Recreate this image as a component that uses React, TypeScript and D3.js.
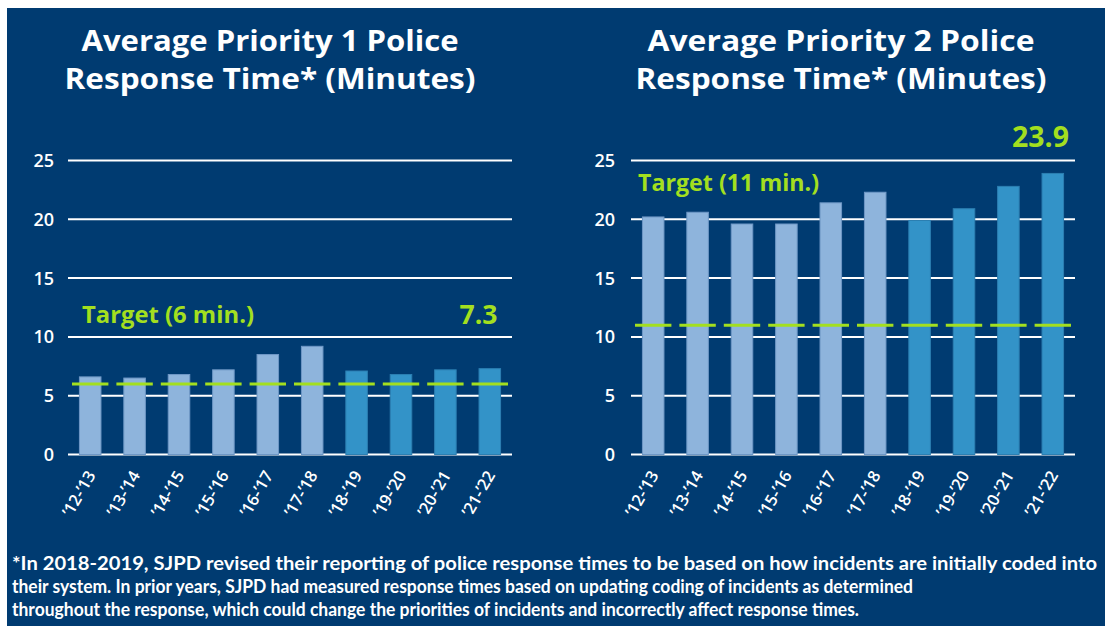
import React from "react";
import * as d3 from "d3";

const categories = ["’12-’13", "’13-’14", "’14-’15", "’15-’16", "’16-’17", "’17-’18", "’18-’19", "’19-’20", "’20-’21", "’21-’22"];
const priority1 = [6.6, 6.5, 6.8, 7.2, 8.5, 9.2, 7.1, 6.8, 7.2, 7.3];
const priority2 = [20.2, 20.6, 19.6, 19.6, 21.4, 22.3, 19.9, 20.9, 22.8, 23.9];
// first six years used older coding method, last four new method
const methodChanged = [false, false, false, false, false, false, true, true, true, true];
const yTicks = [0, 5, 10, 15, 20, 25];
const target1 = 6;
const target2 = 11;
const titles1 = ["Average Priority 1 Police", "Response Time* (Minutes)"];
const titles2 = ["Average Priority 2 Police", "Response Time* (Minutes)"];
const targetLabel1 = "Target (6 min.)";
const targetLabel2 = "Target (11 min.)";
const latestLabel1 = "7.3";
const latestLabel2 = "23.9";
const footnote = [
  "*In 2018-2019, SJPD revised their reporting of police response times to be based on how incidents are initially coded into",
  "their system. In prior years, SJPD had measured response times based on updating coding of incidents as determined",
  "throughout the response, which could change the priorities of incidents and incorrectly affect response times.",
];

const NAVY = "#003B71";
const LIGHT = "#8EB4DC";
const DARK = "#3393C8";
const LIME = "#A3DF1F";
const FONT = "'Open Sans', Lato, sans-serif";
const NOTE_FONT = "Lato, 'Open Sans', sans-serif";

type PanelProps = {
  values: number[];
  target: number;
  x0: number;
  x1: number;
  titles: string[];
  titleCx: number;
  titleW: number[];
  tickRight: number;
  targetLabel: string;
  targetX: number;
  targetY: number;
  targetW: number;
  latest: string;
  latestRight: number;
  latestY: number;
  latestSize: number;
  latestW: number;
};

function Panel(p: PanelProps) {
  const x = d3.scaleBand<string>().domain(categories).range([p.x0, p.x1]).paddingInner(0.515).paddingOuter(0.2575);
  const y = d3.scaleLinear().domain([0, 25]).range([454.5, 160.5]);
  const step = x.step();
  return (
    <g>
      {p.titles.map((t, i) => (
        <text
          key={t}
          x={p.titleCx}
          y={51 + i * 38}
          textAnchor="middle"
          fill="#fff"
          fontFamily={FONT}
          fontWeight={700}
          fontSize={28}
          textLength={p.titleW[i]}
          lengthAdjust="spacingAndGlyphs"
        >
          {t}
        </text>
      ))}
      {yTicks.map((t) => (
        <g key={t}>
          <line x1={p.x0} x2={p.x1} y1={y(t)} y2={y(t)} stroke="#fff" strokeWidth={2} />
          <text
            x={p.tickRight}
            y={y(t)}
            dy="0.36em"
            textAnchor="end"
            fill="#fff"
            fontFamily={FONT}
            fontWeight={600}
            fontSize={18}
          >
            {t}
          </text>
        </g>
      ))}
      {categories.map((c, i) => (
        <rect
          key={c}
          x={x(c)}
          y={y(p.values[i])}
          width={x.bandwidth()}
          height={y(0) - y(p.values[i])}
          fill={methodChanged[i] ? DARK : LIGHT}
          stroke={methodChanged[i] ? "#2C7FB2" : "#6F98C6"}
          strokeWidth={1}
        />
      ))}
      {categories.map((c) => {
        const cx = (x(c) as number) + x.bandwidth() / 2;
        return (
          <line
            key={"t" + c}
            x1={cx - step * 0.41}
            x2={cx + step * 0.41}
            y1={y(p.target)}
            y2={y(p.target)}
            stroke={LIME}
            strokeWidth={3}
          />
        );
      })}
      {categories.map((c) => {
        const cx = (x(c) as number) + x.bandwidth() / 2 + 6;
        return (
          <text
            key={"l" + c}
            transform={`translate(${cx},475) rotate(-60)`}
            textAnchor="end"
            fill="#fff"
            fontFamily={FONT}
            fontWeight={600}
            fontSize={16.5}
          >
            {c}
          </text>
        );
      })}
      <text
        x={p.targetX}
        y={p.targetY}
        fill={LIME}
        fontFamily={FONT}
        fontWeight={700}
        fontSize={23}
        textLength={p.targetW}
        lengthAdjust="spacingAndGlyphs"
      >
        {p.targetLabel}
      </text>
      <text
        x={p.latestRight}
        y={p.latestY}
        textAnchor="end"
        fill={LIME}
        fontFamily={FONT}
        fontWeight={700}
        fontSize={p.latestSize}
        textLength={p.latestW}
        lengthAdjust="spacingAndGlyphs"
      >
        {p.latest}
      </text>
    </g>
  );
}

export default function App() {
  return (
    <svg
      width={1105}
      height={626}
      style={{ position: "absolute", left: 0, top: 0, display: "block" }}
    >
      <rect x={0} y={0} width={1105} height={626} fill="#fff" />
      <rect x={7} y={8} width={1098} height={618} fill={NAVY} />
      <Panel
        values={priority1}
        target={target1}
        x0={68}
        x1={512}
        titles={titles1}
        titleCx={270}
        titleW={[377, 411]}
        tickRight={54}
        targetLabel={targetLabel1}
        targetX={82}
        targetY={323}
        targetW={172}
        latest={latestLabel1}
        latestRight={497.5}
        latestY={324}
        latestSize={27}
        latestW={38}
      />
      <Panel
        values={priority2}
        target={target2}
        x0={631}
        x1={1075}
        titles={titles2}
        titleCx={841}
        titleW={[387, 411]}
        tickRight={615}
        targetLabel={targetLabel2}
        targetX={638}
        targetY={190.5}
        targetW={181}
        latest={latestLabel2}
        latestRight={1069}
        latestY={147}
        latestSize={28}
        latestW={57}
      />
      {footnote.map((t, i) => (
        <text
          key={i}
          x={12}
          y={570 + i * 23}
          fill="#fff"
          fontFamily={NOTE_FONT}
          fontWeight={700}
          fontSize={18}
          textLength={[1085, 901, 847][i]}
          lengthAdjust="spacingAndGlyphs"
        >
          {t}
        </text>
      ))}
    </svg>
  );
}
